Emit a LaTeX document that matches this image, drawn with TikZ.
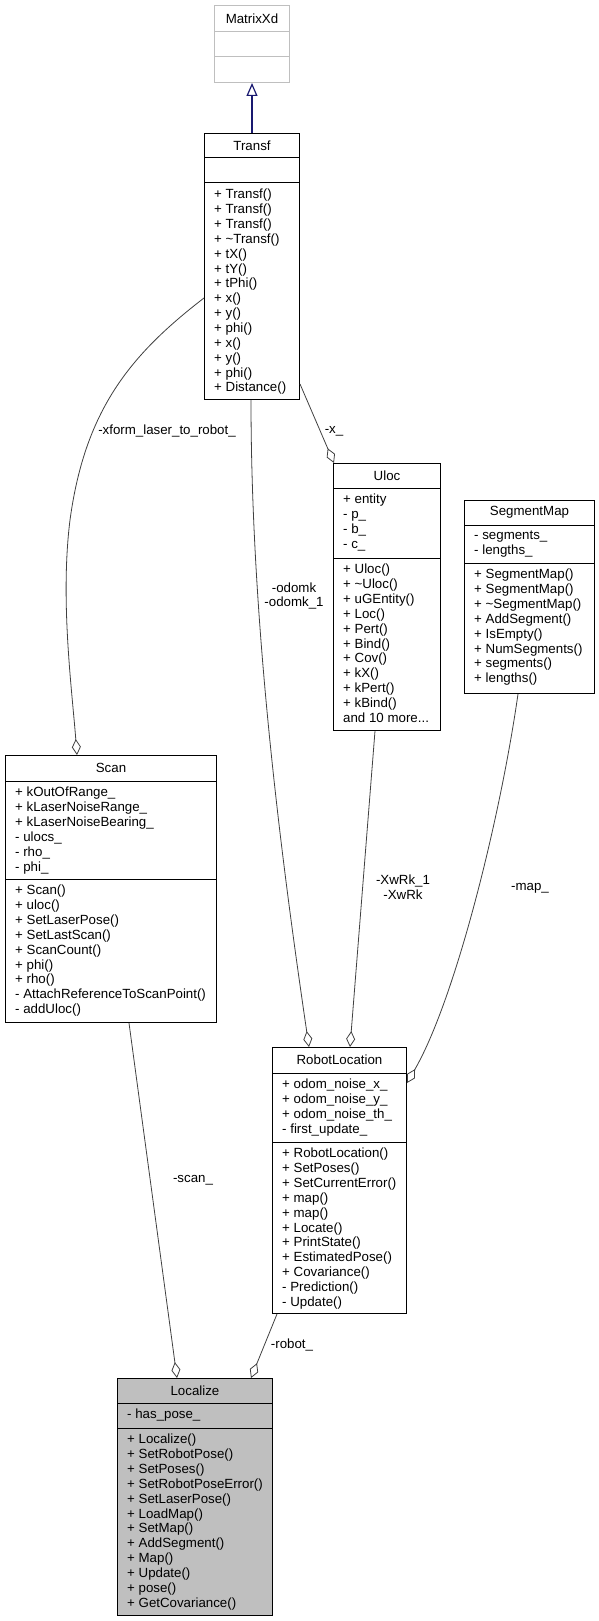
\documentclass[tikz,border=0pt]{standalone}
\usepackage{fontspec}
\setmainfont{Liberation Sans}
\usetikzlibrary{arrows.meta}

\definecolor{edgegray}{HTML}{404040}
\definecolor{boxgray}{HTML}{BFBFBF}
\definecolor{lightframe}{HTML}{BFBFBF}
\definecolor{inheritblue}{HTML}{191970}
\newcommand{\umlfont}{\fontsize{13.3}{14.85}\selectfont}
\newcommand{\tl}{\textasciitilde}

\begin{document}
\begin{tikzpicture}[x=1pt, y=-1pt,
    classbox/.style={draw, line width=1pt, inner sep=0pt, anchor=north west},
    sep/.style={line width=1pt},
    title/.style={font=\umlfont, inner sep=0pt},
    members/.style={font=\umlfont, align=left, inner sep=0pt, anchor=north west},
    rel/.style={draw=edgegray, line width=0.8pt},
    aggr/.style={rel, -{Diamond[open, length=16pt, width=9pt]}},
    lbl/.style={font=\umlfont, align=center, inner sep=0pt}]
      \useasboundingbox (0,0) rectangle (599,1621);

      % MatrixXd (base class, light frame)
      \node[classbox, draw=lightframe, minimum width=75pt, minimum height=77pt] (matrixxd) at (214,5) {};
      \draw[sep, lightframe] ([yshift=-27pt]matrixxd.north west) -- ([yshift=-27pt]matrixxd.north east);
      \draw[sep, lightframe] ([yshift=-52pt]matrixxd.north west) -- ([yshift=-52pt]matrixxd.north east);
      \node[title] (matrixxd-name) at ([yshift=-13.5pt]matrixxd.north) {MatrixXd};

      % Transf
      \node[classbox, minimum width=95pt, minimum height=266pt] (transf) at (204,133) {};
      \draw[sep] ([yshift=-25pt]transf.north west) -- ([yshift=-25pt]transf.north east);
      \draw[sep] ([yshift=-50pt]transf.north west) -- ([yshift=-50pt]transf.north east);
      \node[title] (transf-name) at ([yshift=-12.5pt]transf.north) {Transf};
      \node[members] (transf-ops) at ([xshift=10pt, yshift=-56pt]transf.north west) {%
        + Transf()\\+ Transf()\\+ Transf()\\+ \tl Transf()\\+ tX()\\+ tY()\\+ tPhi()\\%
        + x()\\+ y()\\+ phi()\\+ x()\\+ y()\\+ phi()\\+ Distance()};

      % Uloc
      \node[classbox, minimum width=107pt, minimum height=267pt] (uloc) at (333,463) {};
      \draw[sep] ([yshift=-25pt]uloc.north west) -- ([yshift=-25pt]uloc.north east);
      \draw[sep] ([yshift=-95pt]uloc.north west) -- ([yshift=-95pt]uloc.north east);
      \node[title] (uloc-name) at ([yshift=-12.5pt]uloc.north) {Uloc};
      \node[members] (uloc-attrs) at ([xshift=10pt, yshift=-31pt]uloc.north west) {%
        + entity\\- p\_\\- b\_\\- c\_};
      \node[members] (uloc-ops) at ([xshift=10pt, yshift=-101pt]uloc.north west) {%
        + Uloc()\\+ \tl Uloc()\\+ uGEntity()\\+ Loc()\\+ Pert()\\+ Bind()\\+ Cov()\\%
        + kX()\\+ kPert()\\+ kBind()\\and 10 more...};

      % SegmentMap
      \node[classbox, minimum width=130pt, minimum height=193pt] (segmap) at (464,500) {};
      \draw[sep] ([yshift=-25pt]segmap.north west) -- ([yshift=-25pt]segmap.north east);
      \draw[sep] ([yshift=-63pt]segmap.north west) -- ([yshift=-63pt]segmap.north east);
      \node[title] (segmap-name) at ([yshift=-12.5pt]segmap.north) {SegmentMap};
      \node[members] (segmap-attrs) at ([xshift=10pt, yshift=-31pt]segmap.north west) {%
        - segments\_\\- lengths\_};
      \node[members] (segmap-ops) at ([xshift=10pt, yshift=-69pt]segmap.north west) {%
        + SegmentMap()\\+ SegmentMap()\\+ \tl SegmentMap()\\+ AddSegment()\\%
        + IsEmpty()\\+ NumSegments()\\+ segments()\\+ lengths()};

      % Scan
      \node[classbox, minimum width=211pt, minimum height=267pt] (scan) at (5,755) {};
      \draw[sep] ([yshift=-26pt]scan.north west) -- ([yshift=-26pt]scan.north east);
      \draw[sep] ([yshift=-124pt]scan.north west) -- ([yshift=-124pt]scan.north east);
      \node[title] (scan-name) at ([yshift=-13pt]scan.north) {Scan};
      \node[members] (scan-attrs) at ([xshift=10pt, yshift=-32pt]scan.north west) {%
        + kOutOfRange\_\\+ kLaserNoiseRange\_\\+ kLaserNoiseBearing\_\\%
        - ulocs\_\\- rho\_\\- phi\_};
      \node[members] (scan-ops) at ([xshift=10pt, yshift=-130pt]scan.north west) {%
        + Scan()\\+ uloc()\\+ SetLaserPose()\\+ SetLastScan()\\+ ScanCount()\\%
        + phi()\\+ rho()\\- AttachReferenceToScanPoint()\\- addUloc()};

      % RobotLocation
      \node[classbox, minimum width=134pt, minimum height=266pt] (robotloc) at (272,1047) {};
      \draw[sep] ([yshift=-26pt]robotloc.north west) -- ([yshift=-26pt]robotloc.north east);
      \draw[sep] ([yshift=-95pt]robotloc.north west) -- ([yshift=-95pt]robotloc.north east);
      \node[title] (robotloc-name) at ([yshift=-13pt]robotloc.north) {RobotLocation};
      \node[members] (robotloc-attrs) at ([xshift=10pt, yshift=-32pt]robotloc.north west) {%
        + odom\_noise\_x\_\\+ odom\_noise\_y\_\\+ odom\_noise\_th\_\\- first\_update\_};
      \node[members] (robotloc-ops) at ([xshift=10pt, yshift=-101pt]robotloc.north west) {%
        + RobotLocation()\\+ SetPoses()\\+ SetCurrentError()\\+ map()\\+ map()\\%
        + Locate()\\+ PrintState()\\+ EstimatedPose()\\+ Covariance()\\%
        - Prediction()\\- Update()};

      % Localize (the documented class, grey)
      \node[classbox, fill=boxgray, minimum width=155pt, minimum height=237pt] (localize) at (117,1378) {};
      \draw[sep] ([yshift=-25pt]localize.north west) -- ([yshift=-25pt]localize.north east);
      \draw[sep] ([yshift=-50pt]localize.north west) -- ([yshift=-50pt]localize.north east);
      \node[title] (localize-name) at ([yshift=-12.5pt]localize.north) {Localize};
      \node[members] (localize-attrs) at ([xshift=10pt, yshift=-31pt]localize.north west) {%
        - has\_pose\_};
      \node[members] (localize-ops) at ([xshift=10pt, yshift=-56pt]localize.north west) {%
        + Localize()\\+ SetRobotPose()\\+ SetPoses()\\+ SetRobotPoseError()\\%
        + SetLaserPose()\\+ LoadMap()\\+ SetMap()\\+ AddSegment()\\+ Map()\\%
        + Update()\\+ pose()\\+ GetCovariance()};

      % inheritance
      \draw[draw=inheritblue, line width=1.2pt, -{Triangle[open, length=13pt, width=11pt]}]
        (transf.north) -- (matrixxd.south);

      % aggregations
      \draw[aggr] ([yshift=-165pt]transf.north west) .. controls (130,355) and (85,410) .. (70,520)
        .. controls (60,600) and (72,690) .. ([xshift=72pt]scan.north west);
      \draw[aggr] ([xshift=47pt]transf.south west) .. controls (251,620) and (280,850) .. ([xshift=37pt]robotloc.north west);
      \draw[aggr] ([yshift=-251pt]transf.north east) -- ([xshift=1pt]uloc.north west);
      \draw[aggr] ([xshift=42pt]uloc.south west) -- ([xshift=78pt]robotloc.north west);
      \draw[aggr] ([xshift=54pt]segmap.south west) .. controls (500,820) and (455,1000) .. ([yshift=-36pt]robotloc.north east);
      \draw[aggr] ([xshift=124pt]scan.south west) -- ([xshift=60pt]localize.north west);
      \draw[aggr] ([xshift=5pt]robotloc.south west) -- ([xshift=134pt]localize.north west);

      % edge labels
      \node[lbl] (lbl-xform) at (167,431) {-xform\_laser\_to\_robot\_};
      \node[lbl] (lbl-odomk) at (294,596) {-odomk\\-odomk\_1};
      \node[lbl] (lbl-x) at (334,431) {-x\_};
      \node[lbl] (lbl-xwrk) at (403,887) {-XwRk\_1\\-XwRk};
      \node[lbl] (lbl-map) at (530,888) {-map\_};
      \node[lbl] (lbl-scan) at (193,1180) {-scan\_};
      \node[lbl] (lbl-robot) at (292,1345) {-robot\_};
    \end{tikzpicture}
\end{document}
